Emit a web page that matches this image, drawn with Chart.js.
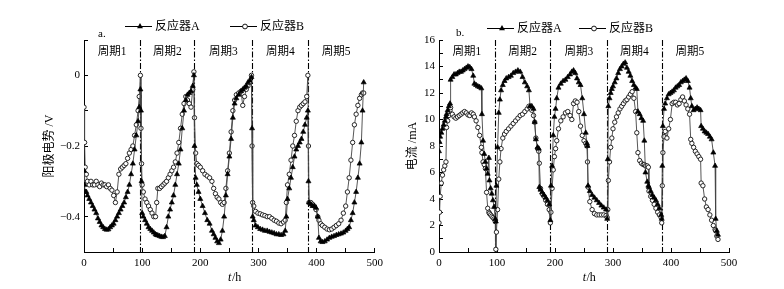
<!DOCTYPE html>
<html>
<head>
<meta charset="utf-8">
<script src="https://cdn.jsdelivr.net/npm/chart.js@4.4.1/dist/chart.umd.min.js"></script>
<style>
html, body { margin: 0; padding: 0; background: #fff; }
#wrap { position: relative; width: 784px; height: 289px; }
canvas { position: absolute; top: 0; }
</style>
</head>
<body>
<div id="wrap">
  <canvas id="potChart" width="392" height="289" style="left:0"></canvas>
  <canvas id="curChart" width="392" height="289" style="left:392px"></canvas>
</div>
<script>
// === DATA ===
const seriesNames = ['反应器A', '反应器B'];
const cycleLabels = ['周期1', '周期2', '周期3', '周期4', '周期5'];

// a. anode potential (V) vs time (h)
const potTime = [
  0, 1, 2, 4, 6, 9, 12, 15, 18, 21,
  24, 27, 30, 33, 36, 39, 42, 45, 48, 51,
  54, 57, 60, 63, 66, 69, 72, 75, 78, 81,
  84, 87, 90, 93, 95, 97, 98, 99, 100, 102,
  105, 108, 111, 114, 117, 120, 123, 125, 127, 130,
  133, 136, 139, 142, 145, 148, 151, 154, 157, 160,
  163, 166, 169, 172, 175, 178, 181, 184, 187, 189,
  190, 192, 194, 197, 200, 204, 208, 212, 216, 220,
  223, 226, 229, 232, 235, 238, 241, 244, 247, 250,
  253, 256, 259, 262, 266, 270, 273, 276, 279, 282,
  285, 288, 289, 290, 292, 295, 299, 303, 307, 311,
  315, 319, 323, 327, 331, 335, 339, 343, 346, 348,
  350, 353, 356, 359, 362, 365, 368, 371, 374, 377,
  380, 383, 385, 386, 387, 390, 393, 396, 399, 402,
  404, 407, 410, 414, 418, 422, 426, 430, 434, 438,
  442, 446, 450, 453, 456, 459, 462, 465, 468, 471,
  474, 477, 479, 481
];
const potA = [
  -0.27, -0.31, -0.33, -0.33, -0.34, -0.35, -0.36, -0.37, -0.38, -0.39,
  -0.405, -0.415, -0.425, -0.43, -0.435, -0.437, -0.436, -0.43, -0.425, -0.42,
  -0.41, -0.40, -0.39, -0.38, -0.37, -0.36, -0.345, -0.33, -0.31, -0.28,
  -0.25, -0.21, -0.17, -0.13, -0.09, -0.04, -0.10, -0.30, -0.39, -0.40,
  -0.41, -0.42, -0.43, -0.435, -0.44, -0.445, -0.45, -0.452, -0.453, -0.455,
  -0.457, -0.458, -0.455, -0.43, -0.40, -0.38, -0.36, -0.34, -0.31, -0.28,
  -0.25, -0.21, -0.15, -0.10, -0.07, -0.055, -0.05, -0.045, -0.03, 0.0,
  -0.20, -0.29, -0.31, -0.33, -0.35, -0.37, -0.39, -0.41, -0.42, -0.44,
  -0.45, -0.46, -0.47, -0.475, -0.465, -0.44, -0.40, -0.34, -0.28, -0.23,
  -0.18, -0.12, -0.08, -0.065, -0.055, -0.045, -0.04, -0.035, -0.03, -0.02,
  -0.015, -0.005, -0.15, -0.40, -0.41, -0.425, -0.43, -0.435, -0.437, -0.44,
  -0.44, -0.443, -0.445, -0.447, -0.45, -0.45, -0.452, -0.45, -0.44, -0.40,
  -0.35, -0.32, -0.29, -0.26, -0.23, -0.21, -0.20, -0.19, -0.18, -0.16,
  -0.14, -0.12, -0.10, -0.30, -0.36, -0.365, -0.37, -0.37, -0.375, -0.40,
  -0.46, -0.47, -0.472, -0.47, -0.465, -0.46, -0.457, -0.455, -0.452, -0.45,
  -0.448, -0.445, -0.44, -0.435, -0.43, -0.41, -0.39, -0.36, -0.33, -0.29,
  -0.25, -0.19, -0.10, -0.02
];
const potB = [
  -0.09, -0.19, -0.26, -0.28, -0.30, -0.31, -0.30, -0.31, -0.31, -0.30,
  -0.31, -0.315, -0.305, -0.31, -0.31, -0.315, -0.31, -0.32, -0.325, -0.34,
  -0.36, -0.33, -0.28, -0.265, -0.26, -0.255, -0.25, -0.235, -0.22, -0.21,
  -0.20, -0.17, -0.14, -0.10, -0.06, 0.0, -0.15, -0.25, -0.31, -0.33,
  -0.35, -0.36, -0.37, -0.38, -0.39, -0.40, -0.40, -0.36, -0.32, -0.32,
  -0.315, -0.31, -0.305, -0.30, -0.29, -0.28, -0.27, -0.26, -0.245, -0.22,
  -0.19, -0.15, -0.11, -0.08, -0.06, -0.07, -0.08, -0.09, -0.04, 0.01,
  -0.12, -0.22, -0.25, -0.255, -0.26, -0.27, -0.28, -0.285, -0.29, -0.30,
  -0.32, -0.335, -0.345, -0.35, -0.36, -0.365, -0.36, -0.32, -0.27, -0.22,
  -0.16, -0.10, -0.07, -0.055, -0.05, -0.045, -0.085, -0.06, -0.04, -0.03,
  -0.02, 0.0, -0.20, -0.36, -0.37, -0.385, -0.39, -0.392, -0.395, -0.397,
  -0.40, -0.40, -0.405, -0.41, -0.413, -0.418, -0.42, -0.415, -0.41, -0.36,
  -0.31, -0.28, -0.24, -0.20, -0.17, -0.13, -0.10, -0.09, -0.085, -0.08,
  -0.075, -0.06, 0.0, -0.20, -0.36, -0.36, -0.365, -0.37, -0.38, -0.40,
  -0.41, -0.42, -0.425, -0.43, -0.435, -0.437, -0.435, -0.43, -0.425, -0.42,
  -0.41, -0.39, -0.37, -0.33, -0.29, -0.24, -0.19, -0.14, -0.11, -0.085,
  -0.065, -0.055, -0.05, -0.05
];
const potCycleEnds = [97, 190, 289, 386];

// b. current (mA) vs time (h)
const curTime = [
  0, 1, 2, 4, 6, 8, 10, 12, 13, 15,
  17, 19, 20, 23, 26, 29, 32, 35, 38, 41,
  44, 47, 50, 53, 56, 59, 61, 64, 67, 70,
  73, 74, 76, 78, 80, 82, 84, 86, 87, 89,
  91, 93, 95, 97, 98, 99, 101, 103, 105, 107,
  110, 113, 116, 120, 124, 128, 132, 136, 140, 144,
  148, 152, 155, 157, 160, 163, 165, 167, 170, 172,
  173, 175, 178, 181, 184, 187, 190, 192, 193, 195,
  197, 199, 201, 203, 206, 210, 214, 218, 222, 226,
  229, 232, 235, 238, 241, 244, 247, 250, 253, 255,
  256, 257, 260, 264, 268, 272, 276, 280, 284, 288,
  290, 291, 292, 294, 296, 298, 300, 303, 306, 309,
  312, 315, 318, 321, 324, 327, 330, 333, 336, 339,
  341, 343, 346, 349, 352, 354, 356, 359, 361, 362,
  365, 368, 371, 374, 377, 380, 383, 384, 385, 386,
  388, 390, 393, 396, 399, 402, 405, 408, 411, 414,
  417, 420, 423, 426, 429, 432, 434, 436, 439, 442,
  445, 448, 451, 452, 455, 458, 461, 464, 467, 470,
  473, 476, 477, 479, 481
];
const curA = [
  7.6, 8.3, 8.7, 9.0, 9.3, 9.6, 9.9, 10.2, 10.4, 10.7,
  11.0, 11.2, 13.0, 13.2, 13.4, 13.4, 13.5, 13.6, 13.6, 13.7,
  13.8, 13.9, 14.0, 13.95, 13.8, 13.3, 12.7, 12.6, 12.5, 12.45,
  12.35, 10.4, 8.4, 7.4, 6.8, 6.3, 5.9, 7.1, 5.4, 4.8,
  4.4, 3.9, 3.4, 2.5, 2.3, 5.0, 7.9, 10.5, 11.5, 12.2,
  12.6, 12.9, 13.1, 13.2, 13.3, 13.5, 13.6, 13.7, 13.6, 13.2,
  12.8, 12.5, 12.2, 11.0, 11.0, 10.8, 9.8, 8.5, 7.9, 7.8,
  4.9, 4.7, 4.5, 4.3, 4.1, 3.9, 3.6, 2.4, 5.0, 6.5,
  8.8, 10.2, 10.8, 11.6, 12.4, 12.7, 12.9, 13.0, 13.2, 13.4,
  13.6, 13.7, 13.5, 13.1, 12.8, 12.6, 11.6, 10.4, 9.0, 8.2,
  8.0, 5.0, 4.6, 4.3, 4.1, 3.9, 3.7, 3.5, 3.35, 3.2,
  2.5, 7.0, 11.0, 11.6, 12.0, 12.3, 12.5, 12.8, 13.1, 13.5,
  13.8, 14.0, 14.2, 14.3, 13.9, 13.6, 13.3, 12.9, 12.6, 12.4,
  12.3, 10.6, 10.4, 10.1, 9.9, 8.4, 6.0, 5.3, 5.0, 4.9,
  4.6, 4.3, 4.1, 3.9, 3.6, 3.3, 2.8, 2.5, 6.5, 9.5,
  10.8, 11.2, 11.6, 11.9, 12.0, 12.1, 12.2, 12.4, 12.5, 12.6,
  12.8, 12.9, 13.0, 13.1, 12.9, 12.4, 11.6, 11.0, 10.7, 10.8,
  10.9, 10.8, 10.7, 9.5, 9.3, 9.1, 9.0, 8.9, 8.7, 8.5,
  7.5, 6.5, 2.5, 1.6, 1.3
];
const curB = [
  2.2, 3.0, 4.2, 5.2, 5.8, 6.2, 6.5, 6.8, 9.4, 9.9,
  10.3, 10.7, 10.9, 10.4, 10.2, 10.1, 10.2, 10.3, 10.4, 10.5,
  10.6, 10.5, 10.35, 10.3, 10.5, 10.4, 10.2, 9.9, 9.4, 8.8,
  7.9, 7.5, 6.8, 6.6, 6.3, 4.5, 3.3, 3.0, 2.9, 2.8,
  2.7, 2.6, 2.5, 2.3, 0.2, 1.5, 3.2, 5.5, 6.8, 7.8,
  8.6, 8.9, 9.1, 9.3, 9.5, 9.7, 9.9, 10.1, 10.3, 10.4,
  10.6, 10.8, 11.0, 10.9, 10.7, 10.3, 9.8, 8.6, 7.8, 7.6,
  6.7, 4.8, 4.4, 4.2, 3.9, 3.6, 3.2, 2.2, 3.0, 4.8,
  6.2, 7.2, 7.8, 8.4, 9.3, 9.9, 10.2, 10.5, 10.6, 10.3,
  10.0, 11.2, 11.4, 11.3, 10.6, 9.5, 8.8, 8.4, 8.2, 8.0,
  6.8, 4.9, 3.8, 3.2, 2.9, 2.8, 2.8, 2.8, 2.8, 2.75,
  2.6, 3.2, 5.4, 6.8, 7.9, 8.6, 9.3, 9.8, 10.2, 10.5,
  10.8, 11.0, 11.2, 11.4, 11.5, 11.7, 11.9, 12.1, 11.6, 10.6,
  9.0, 7.5, 6.9, 6.7, 6.6, 6.6, 6.5, 6.5, 6.4, 4.6,
  4.2, 3.9, 3.6, 3.3, 3.0, 2.8, 2.6, 2.2, 5.0, 7.5,
  8.7, 9.1, 8.6, 9.3, 10.0, 11.2, 11.3, 11.3, 11.1, 11.2,
  11.5, 11.7, 11.4, 11.1, 10.8, 10.4, 8.5, 8.2, 7.9, 7.6,
  7.4, 7.2, 7.0, 5.2, 5.0, 4.0, 3.4, 3.2, 2.8, 2.4,
  2.0, 1.7, 1.6, 1.2, 0.95
];
const curCycleEnds = [96, 192, 290, 384];

// === STYLE ===
const SERIF = "'Liberation Serif', 'Noto Sans CJK SC'";

function markerPath(ctx, kind, x, y) {
    ctx.beginPath();
    if (kind === 'triangle') {
        const r = 3.4;
        ctx.moveTo(x, y - r);
        ctx.lineTo(x + r * 0.87, y + r * 0.5);
        ctx.lineTo(x - r * 0.87, y + r * 0.5);
        ctx.closePath();
        ctx.fillStyle = '#000';
        ctx.fill();
    } else {
        ctx.arc(x, y, 2.4, 0, Math.PI * 2);
        ctx.fillStyle = '#fff';
        ctx.fill();
        ctx.strokeStyle = '#000';
        ctx.lineWidth = 0.9;
        ctx.stroke();
    }
}

// cycle separators, period labels, panel tag, legend, x title
const decor = {
    id: 'decor',
    beforeDatasetsDraw(chart, args, o) {
        const { ctx, chartArea: a, scales: { x } } = chart;
        ctx.save();
        ctx.strokeStyle = '#000';
        ctx.lineWidth = 1.1;
        ctx.setLineDash([6, 2, 1.5, 2]);
        o.cycleEnds.forEach(t => {
            const px = Math.round(x.getPixelForValue(t)) + 0.5;
            ctx.beginPath();
            ctx.moveTo(px, a.top);
            ctx.lineTo(px, a.bottom);
            ctx.stroke();
        });
        ctx.restore();
    },
    afterDraw(chart, args, o) {
        const { ctx, chartArea: a, scales: { x } } = chart;
        ctx.save();
        ctx.fillStyle = '#000';
        ctx.textBaseline = 'middle';

        // period labels centred in each cycle
        const bounds = [0, ...o.cycleEnds, o.lastT];
        ctx.font = '11.5px ' + SERIF;
        ctx.textAlign = 'center';
        cycleLabels.forEach((s, i) => {
            ctx.fillText(s, x.getPixelForValue((bounds[i] + bounds[i + 1]) / 2), a.top + 12);
        });

        // panel tag
        ctx.textAlign = 'left';
        ctx.font = '11px ' + SERIF;
        ctx.fillText(o.tag, o.tagX, o.tagY);

        // legend: line + marker + name
        ctx.font = '12px ' + SERIF;
        ['triangle', 'circle'].forEach((kind, i) => {
            const lx = o.legendX[i], ly = o.legendY;
            ctx.strokeStyle = '#000';
            ctx.lineWidth = 1;
            ctx.beginPath();
            ctx.moveTo(lx, ly + 0.5);
            ctx.lineTo(lx + 27, ly + 0.5);
            ctx.stroke();
            markerPath(ctx, kind, lx + 15, ly + 0.5);
            ctx.fillStyle = '#000';
            ctx.fillText(seriesNames[i], lx + 30, ly + 1);
        });

        // x title: italic t + /h
        const italic = 'italic 12px ' + SERIF, plain = '12px ' + SERIF;
        ctx.font = italic;
        const w1 = ctx.measureText('t').width;
        ctx.font = plain;
        const w2 = ctx.measureText('/h').width;
        const sx = (a.left + a.right) / 2 + 5 - (w1 + w2) / 2;
        ctx.font = italic;
        ctx.fillText('t', sx, 278);
        ctx.font = plain;
        ctx.fillText('/h', sx + w1 + 0.5, 278);
        ctx.restore();
    }
};

function toPoints(xs, ys) {
    return xs.map((t, i) => ({ x: t, y: ys[i] }));
}

function seriesSets(xs, ya, yb) {
    return [
        { label: seriesNames[0], data: toPoints(xs, ya), borderColor: '#444', borderWidth: 0.9,
          pointStyle: 'triangle', pointRadius: 2.9, pointBackgroundColor: '#000', pointBorderColor: '#000', pointBorderWidth: 0.7 },
        { label: seriesNames[1], data: toPoints(xs, yb), borderColor: '#444', borderWidth: 0.9,
          pointStyle: 'circle', pointRadius: 2.2, pointBackgroundColor: '#fff', pointBorderColor: '#111', pointBorderWidth: 0.9 }
    ];
}

function makeOptions(cfg) {
    return {
        responsive: false, animation: false, devicePixelRatio: 1,
        layout: { padding: { top: 40, right: cfg.padRight, left: 0, bottom: 0 } },
        plugins: { legend: { display: false }, tooltip: { enabled: false }, decor: cfg.decor },
        elements: { line: { tension: 0 } },
        scales: {
            x: {
                type: 'linear', min: 0, max: 500,
                ticks: { stepSize: 50, color: '#000', font: { family: SERIF, size: 11 }, padding: 9, maxRotation: 0, autoSkip: false,
                         callback: v => v % 100 === 0 ? String(v) : '' },
                grid: { drawOnChartArea: false, color: '#000', tickLength: -4, lineWidth: 1 },
                border: { color: '#000', width: 1 },
                afterFit: s => { s.height = 37; }
            },
            y: {
                min: cfg.yMin, max: cfg.yMax,
                ticks: { stepSize: cfg.yStep, color: '#000', font: { family: SERIF, size: 11 }, padding: 8, autoSkip: false, callback: cfg.yFmt },
                grid: { drawOnChartArea: false, color: '#000', tickLength: -4, lineWidth: 1 },
                border: { color: '#000', width: 1 },
                title: { display: true, text: cfg.yTitle, color: '#000', font: { family: SERIF, size: 12 }, padding: { top: cfg.yTitlePad, bottom: 0 } },
                afterFit: s => { s.width = cfg.yWidth; }
            }
        }
    };
}

const charts = {};

charts.pot = new Chart(document.getElementById('potChart').getContext('2d'), {
    type: 'line',
    data: { datasets: seriesSets(potTime, potA, potB) },
    options: makeOptions({
        padRight: 17, yWidth: 84, yMin: -0.5, yMax: 0.1, yStep: 0.1,
        yFmt: v => { const k = Math.round(v * 10); return (k <= 0 && k % 2 === 0) ? (k === 0 ? '0' : '\u2212' + (Math.abs(k) / 10).toFixed(1)) : ''; },
        yTitle: '阳极电势 /V', yTitlePad: 43,
        decor: { cycleEnds: potCycleEnds, lastT: potTime[potTime.length - 1], tag: 'a.', tagX: 98, tagY: 34, legendY: 26, legendX: [125, 230] }
    }),
    plugins: [decor]
});

charts.cur = new Chart(document.getElementById('curChart').getContext('2d'), {
    type: 'line',
    data: { datasets: seriesSets(curTime, curA, curB) },
    options: makeOptions({
        padRight: 55, yWidth: 47, yMin: 0, yMax: 16, yStep: 1,
        yFmt: v => (Math.round(v) % 2 === 0 ? String(Math.round(v)) : ''),
        yTitle: '电流 /mA', yTitlePad: 14,
        decor: { cycleEnds: curCycleEnds, lastT: curTime[curTime.length - 1], tag: 'b.', tagX: 64, tagY: 33, legendY: 28, legendX: [95, 187] }
    }),
    plugins: [decor]
});
</script>
</body>
</html>
